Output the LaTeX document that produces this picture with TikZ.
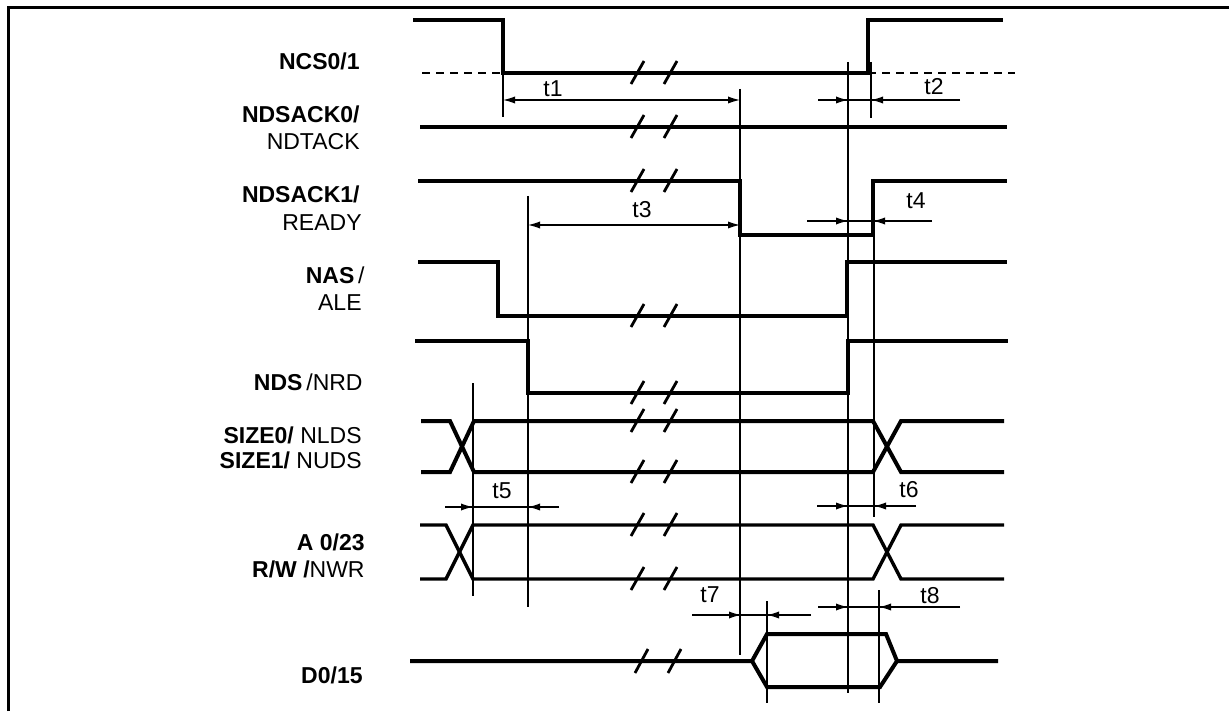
\documentclass[tikz,border=0pt]{standalone}
\usepackage{fontspec}
\setmainfont{Liberation Sans}
\usetikzlibrary{arrows.meta}

\begin{document}
\begin{tikzpicture}[
  x=0.5pt, y=-0.5pt,
  sig/.style={line width=2pt},
  bus/.style={line width=1.7pt},
  dim/.style={line width=0.6pt},
  dsh/.style={line width=1.3pt, dash pattern=on 4pt off 3pt},
  brk/.style={line width=1.4pt},
  dimarr/.style={dim, -{Latex[length=6pt,width=3.6pt]}},
  dimboth/.style={dim, {Latex[length=6pt,width=3.6pt]}-{Latex[length=6pt,width=3.6pt]}},
  lbl/.style={anchor=base east, inner sep=0pt, font=\fontsize{11.5}{13}\selectfont},
  tlbl/.style={anchor=base, inner sep=0pt, font=\fontsize{11.5}{13}\selectfont}
]
  \useasboundingbox (0,0) rectangle (1229,711);
  % frame
  \draw[line width=1.5pt] (8,711) -- (8,8) -- (1229,8);

  % signal names
  \node[lbl] (ncs)   at (360,70)  {\textbf{NCS0/1}};
  \node[lbl] (dsk0)  at (360,123) {\textbf{NDSACK0/}};
  \node[lbl] (dtack) at (360,150) {NDTACK};
  \node[lbl] (dsk1)  at (360,202) {\textbf{NDSACK1/}};
  \node[lbl] (rdy)   at (362,230) {READY};
  \node[lbl] (nas)   at (365,283) {\textbf{NAS}\,/};
  \node[lbl] (ale)   at (362,310) {ALE};
  \node[lbl] (nds)   at (363,390) {\textbf{NDS}\,/NRD};
  \node[lbl] (sz0)   at (362,443) {\textbf{SIZE0/} NLDS};
  \node[lbl] (sz1)   at (362,468) {\textbf{SIZE1/} NUDS};
  \node[lbl] (addr)  at (365,550) {\textbf{A 0/23}};
  \node[lbl] (rw)    at (365,577) {\textbf{R/W /}NWR};
  \node[lbl] (data)  at (363,683) {\textbf{D0/15}};

  % waveforms
  \draw[sig] (413,20) -- (503,20) -- (503,73) -- (868,73) -- (868,20) -- (1003,20);
  \draw[dsh] (422,73) -- (503,73);
  \draw[dsh] (868,73) -- (1015,73);
  \draw[sig] (420,127) -- (1007,127);
  \draw[sig] (418,181) -- (740,181) -- (740,235) -- (873,235) -- (873,181) -- (1007,181);
  \draw[sig] (418,262) -- (498,262) -- (498,316) -- (847,316) -- (847,262) -- (1007,262);
  \draw[sig] (415,341) -- (528,341) -- (528,393) -- (848,393) -- (848,341) -- (1008,341);
  \draw[sig] (421,421) -- (450,421) -- (474,472) -- (873,472) -- (901,421) -- (1004,421);
  \draw[sig] (421,472) -- (450,472) -- (474,421) -- (873,421) -- (901,472) -- (1004,472);
  \draw[bus] (420,525) -- (446,525) -- (473,579) -- (873,579) -- (901,525) -- (1004,525);
  \draw[bus] (420,579) -- (446,579) -- (473,525) -- (873,525) -- (901,579) -- (1004,579);
  \draw[sig] (410,661) -- (752,661) -- (767,634) -- (886,634) -- (897,661) -- (998,661);
  \draw[sig] (752,661) -- (767,687) -- (880,687) -- (897,661);

  % breaks
  \foreach \y in {73,127,181,316,393,421,472,525,579}
    \foreach \x in {631,664}
      \draw[brk] (\x,\y+11) -- (\x+13,\y-12);
  \foreach \x in {635,668}
    \draw[brk] (\x,661+12) -- (\x+13,661-12);

  % reference lines
  \draw[dim] (503,73) -- (503,117);
  \draw[dim] (740,89) -- (740,655);
  \draw[dim] (848,62) -- (848,693);
  \draw[dim] (871,62) -- (871,118);
  \draw[dim] (528,196) -- (528,607);
  \draw[dim] (874,235) -- (874,517);
  \draw[dim] (473,383) -- (473,596);
  \draw[dim] (767,601) -- (767,703);
  \draw[dim] (879,590) -- (879,703);

  % timing arrows
  \draw[dimboth] (503,100) -- (740,100);
  \draw[dimboth] (528,225) -- (740,225);
  \foreach \xa/\xb/\xc/\xd/\y in {818/848/871/960/100, 807/848/873/932/221,
      445/473/528/559/507, 817/848/874/916/506, 692/741/767/811/615, 818/848/879/960/607}
  {
    \draw[dim] (\xa,\y) -- (\xd,\y);
    \draw[dimarr] (\xa,\y) -- (\xb,\y);
    \draw[dimarr] (\xd,\y) -- (\xc,\y);
  }

  % timing names
  \node[tlbl] (t1) at (553,97)  {t1};
  \node[tlbl] (t2) at (934,95)  {t2};
  \node[tlbl] (t3) at (642,218) {t3};
  \node[tlbl] (t4) at (916,208) {t4};
  \node[tlbl] (t5) at (502,498) {t5};
  \node[tlbl] (t6) at (909,497) {t6};
  \node[tlbl] (t7) at (710,602) {t7};
  \node[tlbl] (t8) at (930,603) {t8};
\end{tikzpicture}
\end{document}
